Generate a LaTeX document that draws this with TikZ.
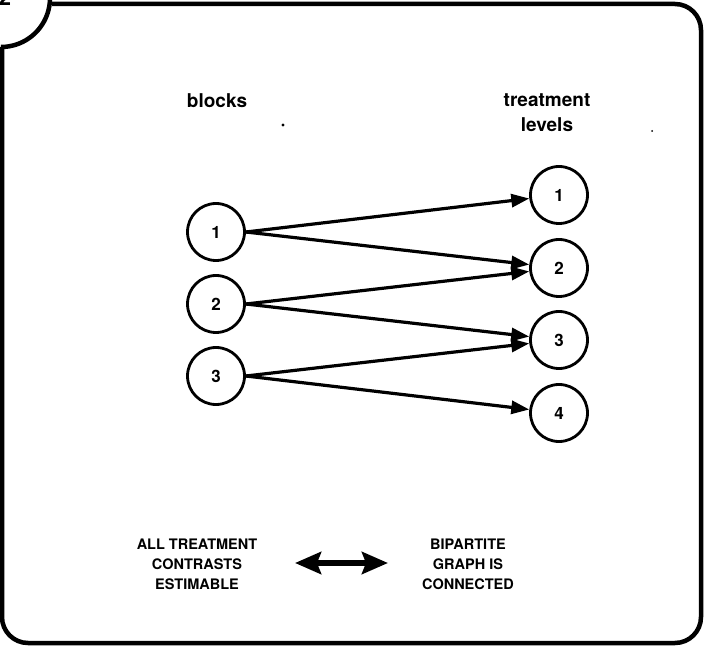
\documentclass[tikz,border=0pt]{standalone}
\usepackage{fontspec}
\setmainfont{TeX Gyre Heros}
\usetikzlibrary{arrows.meta}
\tikzset{
  vtx/.style={draw, circle, minimum size=57pt, inner sep=0pt, line width=2.8pt, font=\bfseries\fontsize{17}{17}\selectfont},
  edgearrow/.style={line width=3.2pt, -{Triangle[length=18pt,width=13pt]}},
  heading/.style={font=\bfseries\fontsize{19}{25}\selectfont, align=center, inner sep=0pt},
  caption/.style={font=\bfseries\fontsize{14.5}{20}\selectfont, align=center, inner sep=0pt},
  frameline/.style={line width=4.5pt}
}
\begin{document}
\begin{tikzpicture}[x=1pt,y=-1pt]
\useasboundingbox (0,0) rectangle (705,647);
% frame
\draw[frameline, rounded corners=26pt] (52,4) -- (701,4) -- (701,643) -- (2,643) -- (2,47);
\draw[frameline] (1,-2) ++(-5:49) arc[start angle=-5, end angle=90, radius=49];
\node[font=\bfseries\fontsize{22}{22}\selectfont, inner sep=0pt] (tab) at (5,-2) {2};
% headings
\node[heading] (hb) at (217,101) {blocks};
\node[heading] (ht) at (547,113) {treatment\\levels};
% stray specks
\fill (283,125) circle[radius=1.6pt];
\fill (652,131) circle[radius=1pt];
% vertices
\node[vtx] (l1) at (216,232) {1};
\node[vtx] (l2) at (216,304) {2};
\node[vtx] (l3) at (216,376) {3};
\node[vtx] (r1) at (559,195) {1};
\node[vtx] (r2) at (559,268) {2};
\node[vtx] (r3) at (559,340) {3};
\node[vtx] (r4) at (559,413) {4};
% edges
\draw[edgearrow] (l1.east) -- (r1);
\draw[edgearrow] (l1.east) -- (r2);
\draw[edgearrow] (l2.east) -- (r2);
\draw[edgearrow] (l2.east) -- (r3);
\draw[edgearrow] (l3.east) -- (r3);
\draw[edgearrow] (l3.east) -- (r4);
% bottom
\node[caption] (ca) at (197,564) {ALL TREATMENT\\CONTRASTS\\ESTIMABLE};
\node[caption] (cb) at (468,564) {BIPARTITE\\GRAPH IS\\CONNECTED};
\coordinate (da) at (295,563);
\coordinate (db) at (388,563);
\draw[line width=6pt, {Stealth[length=26pt,width=22pt,inset=4pt]}-{Stealth[length=26pt,width=22pt,inset=4pt]}] (da) -- (db);
\end{tikzpicture}
\end{document}
